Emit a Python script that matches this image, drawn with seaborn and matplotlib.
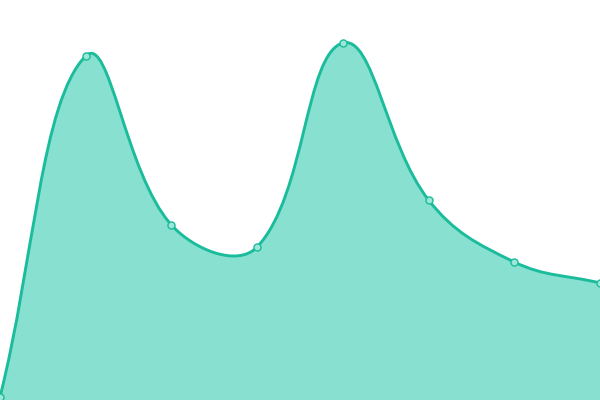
import numpy as np
import matplotlib
matplotlib.use('Agg')
import matplotlib.pyplot as plt
from matplotlib.path import Path
from matplotlib.patches import PathPatch
import seaborn as sns

# --- data ---
points = [0, 1, 2, 3, 4, 5, 6, 7]
values = [3, 344, 175, 153, 357, 200, 138, 117]

LINE = '#1abc9c'
FILL = '#88e0d0'
TENSION = 0.4

sns.set_style('white')
fig = plt.figure(figsize=(6, 4), dpi=100)
ax = fig.add_axes([0, 0, 1, 1])
ax.set_xlim(0, 7)
ax.set_ylim(0, 400)
ax.axis('off')

# control points for a smooth bezier line (chart.js style), in pixel units
sx = 600 / 7
px = np.array(points, dtype=float) * sx
py = np.array(values, dtype=float)
n = len(px)
cp_prev = []
cp_next = []
for i in range(n):
    a = max(i - 1, 0)
    b = min(i + 1, n - 1)
    d01 = np.hypot(px[i] - px[a], py[i] - py[a])
    d12 = np.hypot(px[b] - px[i], py[b] - py[i])
    tot = d01 + d12 if d01 + d12 > 0 else 1
    fa = TENSION * d01 / tot
    fb = TENSION * d12 / tot
    dx, dy = px[b] - px[a], py[b] - py[a]
    cp_prev.append((px[i] - fa * dx, py[i] - fa * dy))
    cp_next.append((px[i] + fb * dx, py[i] + fb * dy))

verts = [(px[0], py[0])]
codes = [Path.MOVETO]
for i in range(n - 1):
    verts += [cp_next[i], cp_prev[i + 1], (px[i + 1], py[i + 1])]
    codes += [Path.CURVE4] * 3
verts = [(x / sx, y) for x, y in verts]

fill_verts = verts + [(points[-1], 0), (points[0], 0), verts[0]]
fill_codes = codes + [Path.LINETO, Path.LINETO, Path.CLOSEPOLY]
ax.add_patch(PathPatch(Path(fill_verts, fill_codes), facecolor=FILL,
                       edgecolor='none', zorder=1))
ax.add_patch(PathPatch(Path(verts, codes), facecolor='none',
                       edgecolor=LINE, linewidth=2.1, zorder=2))

sns.scatterplot(x=points, y=values, ax=ax, s=26, color='#9ee6d8',
                edgecolor=LINE, linewidth=1.0, zorder=3, clip_on=False)

fig.savefig('out.png', dpi=100)
